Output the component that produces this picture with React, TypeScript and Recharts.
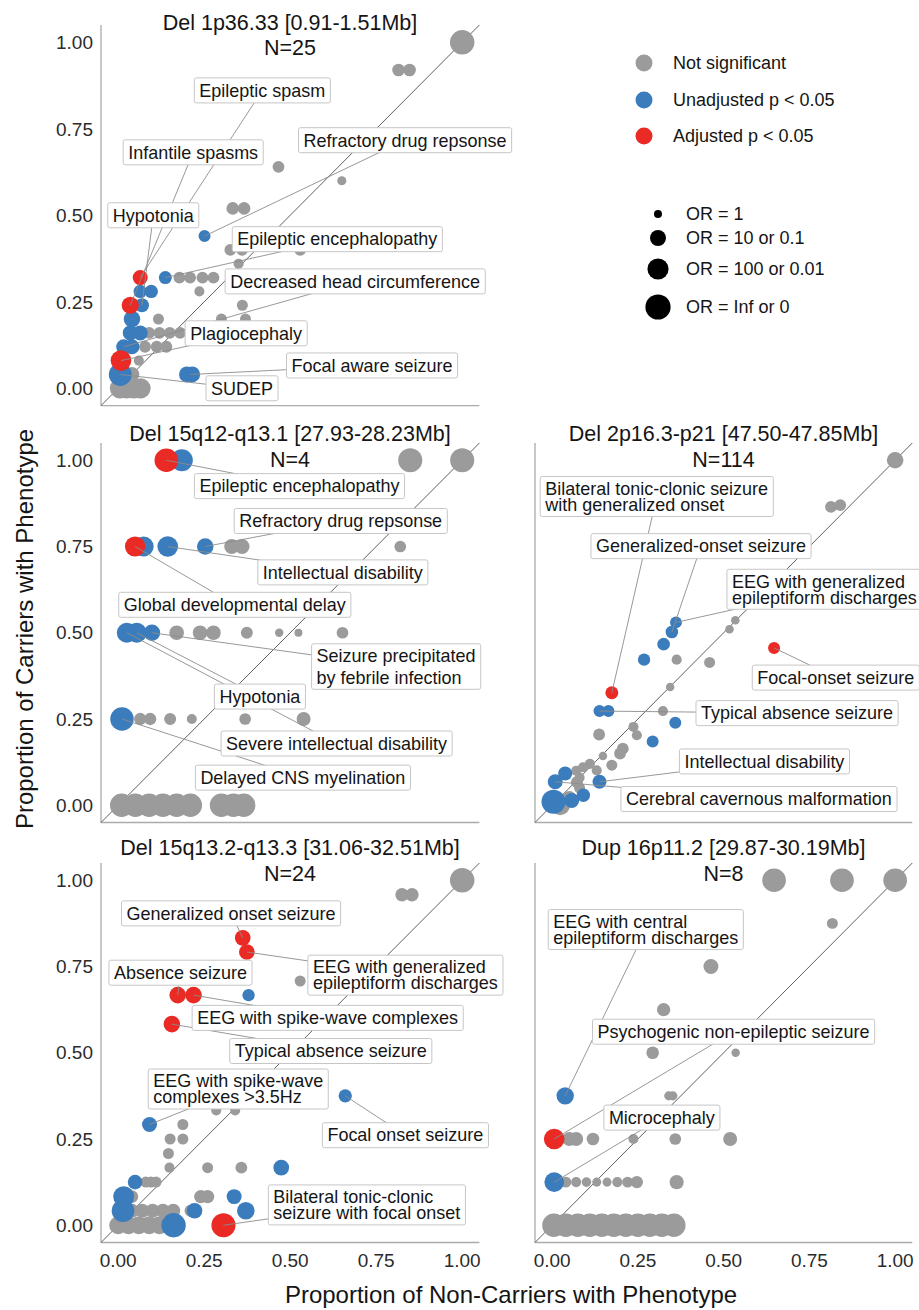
import React from 'react';
import { Scatter, ScatterChart, XAxis, YAxis, ZAxis } from 'recharts';

// [proportion non-carriers, proportion carriers, |log10 OR| (3 = Inf/0)]
type Pt = [number, number, number];
type Tag = { text: string; from: [number, number]; at: [number, number]; gap?: number };

const ticks = [0, 0.25, 0.5, 0.75, 1];

// ---- Del 1p36.33, N=25
const p1Gray: Pt[] = [
  [1.0, 1.0, 2.8], [0.815, 0.92, 0.5], [0.847, 0.92, 0.5], [0.466, 0.64, 0.4], [0.65, 0.6, 0.1],
  [0.333, 0.52, 0.5], [0.366, 0.52, 0.5], [0.326, 0.4, 0.4], [0.36, 0.4, 0.4], [0.529, 0.4, 0.4],
  [0.35, 0.36, 0.2], [0.178, 0.32, 0.4], [0.209, 0.32, 0.4], [0.245, 0.32, 0.4], [0.277, 0.32, 0.4],
  [0.236, 0.28, 0.2], [0.361, 0.24, 0.3], [0.117, 0.2, 0.3], [0.3, 0.2, 0.3], [0.37, 0.2, 0.3],
  [0.09, 0.16, 0.4], [0.12, 0.16, 0.4], [0.15, 0.16, 0.4], [0.18, 0.16, 0.4],
  [0.078, 0.12, 0.4], [0.112, 0.12, 0.4], [0.14, 0.12, 0.4], [0.06, 0.08, 0.2], [0.04, 0.04, 0.8],
  [0.005, 0, 1.8], [0.025, 0, 1.8], [0.045, 0, 1.8], [0.065, 0, 1.8],
];
const p1Blue: Pt[] = [
  [0.251, 0.44, 0.42], [0.137, 0.32, 0.55], [0.064, 0.28, 0.6], [0.096, 0.28, 0.6], [0.069, 0.24, 0.7],
  [0.04, 0.2, 1.1], [0.035, 0.16, 0.85], [0.064, 0.16, 0.85], [0.016, 0.12, 0.85], [0.04, 0.12, 0.85],
  [0.006, 0.04, 2.4], [0.2, 0.04, 1.0], [0.215, 0.04, 1.0],
];
const p1Red: Pt[] = [[0.064, 0.32, 0.85], [0.035, 0.24, 1.2], [0.008, 0.08, 1.9]];
const p1Tags: Tag[] = [
  { text: 'Epileptic spasm', from: [0.064, 0.32], at: [0.419, 0.861] },
  { text: 'Refractory drug repsonse', from: [0.251, 0.44], at: [0.834, 0.717] },
  { text: 'Infantile spasms', from: [0.035, 0.24], at: [0.218, 0.682] },
  { text: 'Hypotonia', from: [0.069, 0.24], at: [0.102, 0.5] },
  { text: 'Epileptic encephalopathy', from: [0.137, 0.32], at: [0.637, 0.431] },
  { text: 'Decreased head circumference', from: [0.016, 0.12], at: [0.689, 0.309] },
  { text: 'Plagiocephaly', from: [0.008, 0.08], at: [0.372, 0.159] },
  { text: 'Focal aware seizure', from: [0.21, 0.04], at: [0.738, 0.066] },
  { text: 'SUDEP', from: [0.006, 0.04], at: [0.36, 0.0] },
];

// ---- Del 15q12-q13.1, N=4
const p2Gray: Pt[] = [
  [0.849, 1.0, 2.7], [1.0, 1.0, 2.7], [0.33, 0.75, 0.84], [0.36, 0.75, 0.84], [0.82, 0.75, 0.38],
  [0.17, 0.5, 0.78], [0.238, 0.5, 0.78], [0.277, 0.5, 0.78], [0.374, 0.5, 0.42], [0.468, 0.5, 0.04],
  [0.524, 0.5, 0], [0.652, 0.5, 0.38],
  [0.064, 0.25, 0.46], [0.093, 0.25, 0.46], [0.151, 0.25, 0.42], [0.214, 0.25, 0.19], [0.369, 0.25, 0.38],
  [0.539, 0.25, 0.69],
  [0.01, 0, 2.5], [0.05, 0, 2.5], [0.09, 0, 2.5], [0.13, 0, 2.5], [0.17, 0, 2.5], [0.21, 0, 2.5],
  [0.3, 0, 2.5], [0.335, 0, 2.5], [0.365, 0, 2.5],
];
const p2Blue: Pt[] = [
  [0.185, 1.0, 2.2], [0.074, 0.75, 1.76], [0.144, 0.75, 1.9], [0.253, 0.75, 1.1],
  [0.025, 0.5, 1.76], [0.054, 0.5, 1.76], [0.098, 0.5, 1.1], [0.011, 0.25, 2.55],
];
const p2Red: Pt[] = [[0.14, 1.0, 2.6], [0.049, 0.75, 1.8]];
const p2Tags: Tag[] = [
  { text: 'Epileptic encephalopathy', from: [0.14, 1.0], at: [0.527, 0.925] },
  { text: 'Refractory drug repsonse', from: [0.253, 0.75], at: [0.647, 0.824] },
  { text: 'Intellectual disability', from: [0.144, 0.75], at: [0.653, 0.675] },
  { text: 'Global developmental delay', from: [0.049, 0.75], at: [0.339, 0.581] },
  { text: 'Seizure precipitated\nby febrile infection', from: [0.098, 0.5], at: [0.808, 0.402], gap: 21.5 },
  { text: 'Hypotonia', from: [0.054, 0.5], at: [0.412, 0.315] },
  { text: 'Severe intellectual disability', from: [0.025, 0.5], at: [0.635, 0.179] },
  { text: 'Delayed CNS myelination', from: [0.011, 0.25], at: [0.537, 0.08] },
];

// ---- Del 2p16.3-p21, N=114
const p3Gray: Pt[] = [
  [1.0, 1.0, 1.1], [0.813, 0.865, 0.4], [0.84, 0.87, 0.4], [0.534, 0.536, 0.05], [0.517, 0.51, 0.05],
  [0.363, 0.422, 0.2], [0.459, 0.414, 0.3], [0.344, 0.343, 0.05], [0.323, 0.273, 0.2],
  [0.237, 0.227, 0.2], [0.247, 0.203, 0.2], [0.137, 0.205, 0.4], [0.206, 0.164, 0.4], [0.198, 0.15, 0.4],
  [0.174, 0.116, 0.3], [0.148, 0.143, 0.05], [0.13, 0.101, 0.2], [0.07, 0.1, 0.2], [0.09, 0.11, 0.2],
  [0.11, 0.12, 0.2], [0.08, 0.08, 0.2], [0.072, 0.067, 0.4], [0.08, 0.05, 0.3], [0.023, 0, 1.76],
  [0.05, 0.02, 0.8],
];
const p3Blue: Pt[] = [
  [0.361, 0.53, 0.4], [0.349, 0.502, 0.5], [0.325, 0.467, 0.5], [0.268, 0.422, 0.46],
  [0.138, 0.273, 0.42], [0.164, 0.273, 0.42], [0.359, 0.239, 0.42], [0.293, 0.185, 0.42],
  [0.138, 0.068, 0.69], [0.038, 0.092, 0.69], [0.009, 0.068, 0.84], [0.091, 0.029, 0.6],
  [0.057, 0.014, 0.84], [0.004, 0.01, 2.7],
];
const p3Red: Pt[] = [[0.647, 0.456, 0.42], [0.174, 0.326, 0.55]];
const p3Tags: Tag[] = [
  { text: 'Bilateral tonic-clonic seizure\nwith generalized onset', from: [0.174, 0.326], at: [0.305, 0.895] },
  { text: 'Generalized-onset seizure', from: [0.349, 0.502], at: [0.434, 0.751] },
  { text: 'EEG with generalized\nepileptiform discharges', from: [0.361, 0.53], at: [0.794, 0.626] },
  { text: 'Focal-onset seizure', from: [0.647, 0.456], at: [0.827, 0.37] },
  { text: 'Typical absence seizure', from: [0.138, 0.273], at: [0.714, 0.267] },
  { text: 'Intellectual disability', from: [0.138, 0.068], at: [0.619, 0.127] },
  { text: 'Cerebral cavernous malformation', from: [0.009, 0.068], at: [0.603, 0.018] },
];

// ---- Del 15q13.2-q13.3, N=24
const p4Gray: Pt[] = [
  [1.0, 1.0, 2.8], [0.825, 0.958, 0.6], [0.854, 0.958, 0.6], [0.529, 0.708, 0.3],
  [0.285, 0.333, 0.2], [0.34, 0.333, 0.2], [0.188, 0.292, 0.3], [0.151, 0.25, 0.3], [0.188, 0.25, 0.3],
  [0.146, 0.208, 0.3], [0.149, 0.167, 0.2], [0.26, 0.167, 0.3], [0.358, 0.167, 0.4],
  [0.08, 0.125, 0.3], [0.095, 0.125, 0.3], [0.11, 0.125, 0.3], [0.04, 0.083, 0.5], [0.24, 0.083, 0.6],
  [0.26, 0.083, 0.6], [0.04, 0.042, 0.7], [0.07, 0.042, 0.7], [0.1, 0.042, 0.7], [0.13, 0.042, 0.7],
  [0.16, 0.042, 0.7], [0.21, 0.042, 0.4],
  [0.0, 0, 1.36], [0.03, 0, 1.36], [0.06, 0, 1.36], [0.09, 0, 1.36], [0.12, 0, 1.36],
];
const p4Blue: Pt[] = [
  [0.379, 0.667, 0.46], [0.66, 0.375, 0.6], [0.091, 0.292, 0.84], [0.474, 0.167, 0.95],
  [0.049, 0.125, 0.78], [0.016, 0.083, 1.97], [0.337, 0.083, 0.84], [0.014, 0.042, 2.35],
  [0.222, 0.042, 0.95], [0.371, 0.042, 1.3], [0.161, 0, 2.78],
];
const p4Red: Pt[] = [
  [0.362, 0.833, 0.95], [0.374, 0.792, 0.95], [0.173, 0.667, 1.1], [0.219, 0.667, 1.1],
  [0.156, 0.583, 1.1], [0.306, 0, 2.7],
];
const p4Tags: Tag[] = [
  { text: 'Generalized onset seizure', from: [0.362, 0.833], at: [0.328, 0.904] },
  { text: 'EEG with generalized\nepileptiform discharges', from: [0.374, 0.792], at: [0.835, 0.725] },
  { text: 'Absence seizure', from: [0.173, 0.667], at: [0.181, 0.732] },
  { text: 'EEG with spike-wave complexes', from: [0.219, 0.667], at: [0.609, 0.601] },
  { text: 'Typical absence seizure', from: [0.156, 0.583], at: [0.618, 0.505] },
  { text: 'EEG with spike-wave\ncomplexes >3.5Hz', from: [0.091, 0.292], at: [0.349, 0.395] },
  { text: 'Focal onset seizure', from: [0.66, 0.375], at: [0.835, 0.261] },
  { text: 'Bilateral tonic-clonic\nseizure with focal onset', from: [0.306, 0], at: [0.723, 0.059] },
];

// ---- Dup 16p11.2, N=8
const p5Gray: Pt[] = [
  [0.647, 1.0, 2.6], [0.845, 1.0, 2.6], [1.0, 1.0, 2.6], [0.817, 0.875, 0.3], [0.463, 0.75, 0.84],
  [0.325, 0.625, 0.6], [0.293, 0.5, 0.5], [0.535, 0.5, 0.04], [0.34, 0.375, 0.1], [0.352, 0.375, 0.1],
  [0.05, 0.25, 0.69], [0.07, 0.25, 0.69], [0.119, 0.25, 0.5], [0.237, 0.25, 0.19], [0.359, 0.25, 0.38],
  [0.519, 0.25, 0.69],
  [0.04, 0.125, 0.3], [0.07, 0.125, 0.2], [0.1, 0.125, 0.15], [0.13, 0.125, 0.1], [0.16, 0.125, 0.1],
  [0.19, 0.125, 0.2], [0.22, 0.125, 0.3], [0.247, 0.125, 0.46], [0.363, 0.125, 0.73],
  [0.005, 0, 2.5], [0.04, 0, 2.5], [0.075, 0, 2.5], [0.11, 0, 2.5], [0.145, 0, 2.5], [0.18, 0, 2.5],
  [0.215, 0, 2.5], [0.25, 0, 2.5], [0.285, 0, 2.5], [0.32, 0, 2.5], [0.355, 0, 2.5],
];
const p5Blue: Pt[] = [[0.038, 0.375, 1.25], [0.006, 0.125, 1.7]];
const p5Red: Pt[] = [[0.006, 0.25, 1.9]];
const p5Tags: Tag[] = [
  { text: 'EEG with central\nepileptiform discharges', from: [0.038, 0.375], at: [0.273, 0.857] },
  { text: 'Psychogenic non-epileptic seizure', from: [0.006, 0.25], at: [0.529, 0.561] },
  { text: 'Microcephaly', from: [0.006, 0.125], at: [0.32, 0.312] },
];

const colourLegend = ['Not significant', 'Unadjusted p < 0.05', 'Adjusted p < 0.05'];
const sizeLegend = ['OR = 1', 'OR = 10 or 0.1', 'OR = 100 or 0.01', 'OR = Inf or 0'];

const FONT = "'Liberation Sans', Arial, Helvetica, sans-serif";
const GRAY = '#9b9b9b';
const BLUE = '#3b7cbd';
const RED = '#ea2a24';
const Z_RANGE = [50, 500];
const YAW = 100;
const XAH = 45;
const PAD_T = 20;

const panels = [
  { title: 'Del 1p36.33 [0.91-1.51Mb]', n: 'N=25', gray: p1Gray, blue: p1Blue, red: p1Red, tags: p1Tags,
    x0: 118, ux: 344, y0: 388, uy: 346, titleY: 29.5, showX: false, showY: true, padR: 60 },
  { title: 'Del 15q12-q13.1 [27.93-28.23Mb]', n: 'N=4', gray: p2Gray, blue: p2Blue, red: p2Red, tags: p2Tags,
    x0: 118, ux: 344, y0: 805, uy: 345, titleY: 441, showX: false, showY: true, padR: 60 },
  { title: 'Del 2p16.3-p21 [47.50-47.85Mb]', n: 'N=114', gray: p3Gray, blue: p3Blue, red: p3Red, tags: p3Tags,
    x0: 552, ux: 343, y0: 805, uy: 345, titleY: 441, showX: false, showY: false, padR: 20 },
  { title: 'Del 15q13.2-q13.3 [31.06-32.51Mb]', n: 'N=24', gray: p4Gray, blue: p4Blue, red: p4Red, tags: p4Tags,
    x0: 118, ux: 344, y0: 1225, uy: 345, titleY: 855, showX: true, showY: true, padR: 60 },
  { title: 'Dup 16p11.2 [29.87-30.19Mb]', n: 'N=8', gray: p5Gray, blue: p5Blue, red: p5Red, tags: p5Tags,
    x0: 552, ux: 343, y0: 1225, uy: 345, titleY: 855, showX: true, showY: false, padR: 20 },
];

const rows = (pts: Pt[]) => pts.map(([x, y, z]) => ({ x, y, z }));
const zRadius = (z: number) => Math.sqrt((Z_RANGE[0] + ((Z_RANGE[1] - Z_RANGE[0]) * z) / 3) / Math.PI);

let measureCtx: CanvasRenderingContext2D | null = null;
function textWidth(s: string) {
  if (!measureCtx) measureCtx = document.createElement('canvas').getContext('2d');
  if (!measureCtx) return s.length * 9;
  measureCtx.font = `18px ${FONT}`;
  return measureCtx.measureText(s).width;
}

function LabelBox(props: any) {
  const { cx, cy, payload } = props;
  if (cx == null || cy == null) return <g />;
  const lines: string[] = payload.text.split('\n');
  const gap: number = payload.gap ?? 16;
  const w = Math.max(...lines.map(textWidth)) + 10;
  const h = 25 + (lines.length - 1) * (gap - 1);
  const left = cx - w / 2;
  const first = cy - ((lines.length - 1) * gap) / 2;
  return (
    <g>
      <rect x={left} y={cy - h / 2} width={w} height={h} rx={2} fill="#fff" stroke="#c6c6c6" strokeWidth={1} />
      <text fontSize={18} fill="#151515" fontFamily={FONT}>
        {lines.map((ln, i) => (
          <tspan key={i} x={left + 5} y={first + i * gap} dy="0.35em">
            {ln}
          </tspan>
        ))}
      </text>
    </g>
  );
}

const noDot = () => <g />;
const fmt = (v: number) => v.toFixed(2);

function Panel({ cfg }: { cfg: (typeof panels)[number] }) {
  const plotLeft = cfg.x0 - 0.05 * cfg.ux;
  const plotW = 1.1 * cfg.ux;
  const plotTop = cfg.y0 - 1.05 * cfg.uy;
  const plotH = 1.1 * cfg.uy;
  const tickStyle = { fontSize: 19, fill: '#2b2b2b', fontFamily: FONT };
  const axisLine = { stroke: '#ababab', strokeWidth: 1.3 };
  return (
    <div style={{ position: 'absolute', left: plotLeft - YAW, top: plotTop - PAD_T }}>
      <ScatterChart
        width={YAW + plotW + cfg.padR}
        height={PAD_T + plotH + XAH}
        margin={{ top: PAD_T, right: cfg.padR, bottom: 0, left: 0 }}
      >
        <XAxis
          type="number"
          dataKey="x"
          domain={[-0.05, 1.05]}
          ticks={ticks}
          tickFormatter={fmt}
          tick={cfg.showX ? tickStyle : false}
          tickLine={false}
          tickSize={0}
          tickMargin={11}
          axisLine={axisLine}
          height={XAH}
        />
        <YAxis
          type="number"
          dataKey="y"
          domain={[-0.05, 1.05]}
          ticks={ticks}
          tickFormatter={fmt}
          tick={cfg.showY ? tickStyle : false}
          tickLine={false}
          tickSize={0}
          tickMargin={8}
          axisLine={axisLine}
          width={YAW}
        />
        <ZAxis type="number" dataKey="z" domain={[0, 3]} range={Z_RANGE} />
        <Scatter
          data={[{ x: -0.05, y: -0.05 }, { x: 1.05, y: 1.05 }]}
          line={{ stroke: '#5f5f5f', strokeWidth: 1 }}
          shape={noDot}
          isAnimationActive={false}
        />
        <Scatter data={rows(cfg.gray)} fill={GRAY} isAnimationActive={false} />
        <Scatter data={rows(cfg.blue)} fill={BLUE} isAnimationActive={false} />
        <Scatter data={rows(cfg.red)} fill={RED} isAnimationActive={false} />
        {cfg.tags.map((t, i) => (
          <Scatter
            key={`seg${i}`}
            data={[{ x: t.from[0], y: t.from[1] }, { x: t.at[0], y: t.at[1] }]}
            line={{ stroke: '#8c8c8c', strokeWidth: 0.9 }}
            shape={noDot}
            isAnimationActive={false}
          />
        ))}
        <Scatter
          data={cfg.tags.map((t) => ({ x: t.at[0], y: t.at[1], text: t.text, gap: t.gap }))}
          shape={LabelBox}
          isAnimationActive={false}
        />
      </ScatterChart>
    </div>
  );
}

export default function App() {
  const colours = [GRAY, BLUE, RED];
  const colourY = [63, 100, 136];
  const sizeY = [214, 238, 269, 307];
  return (
    <div
      style={{
        position: 'absolute',
        left: 0,
        top: 0,
        width: 919,
        height: 1310,
        overflow: 'hidden',
        background: '#fff',
        fontFamily: FONT,
      }}
    >
      {panels.map((p) => (
        <Panel key={p.title} cfg={p} />
      ))}
      <svg width={919} height={1310} style={{ position: 'absolute', left: 0, top: 0, pointerEvents: 'none' }}>
        <g fontFamily={FONT} fill="#151515">
          {panels.map((p) => {
            const cx = p.x0 + 0.5 * p.ux;
            return (
              <g key={p.title} fontSize={21.5} textAnchor="middle">
                <text x={cx} y={p.titleY}>{p.title}</text>
                <text x={cx} y={p.titleY + 25.5}>{p.n}</text>
              </g>
            );
          })}
          <text transform="translate(33,629) rotate(-90)" textAnchor="middle" fontSize={24}>
            Proportion of Carriers with Phenotype
          </text>
          <text x={511} y={1303} textAnchor="middle" fontSize={24}>
            Proportion of Non-Carriers with Phenotype
          </text>
          {colourLegend.map((label, i) => (
            <g key={label}>
              <circle cx={644} cy={colourY[i]} r={8.5} fill={colours[i]} />
              <text x={673} y={colourY[i]} dy="0.35em" fontSize={18}>{label}</text>
            </g>
          ))}
          {sizeLegend.map((label, i) => (
            <g key={label}>
              <circle cx={658} cy={sizeY[i]} r={zRadius(i)} fill="#000" />
              <text x={686} y={sizeY[i]} dy="0.35em" fontSize={18}>{label}</text>
            </g>
          ))}
        </g>
      </svg>
    </div>
  );
}
